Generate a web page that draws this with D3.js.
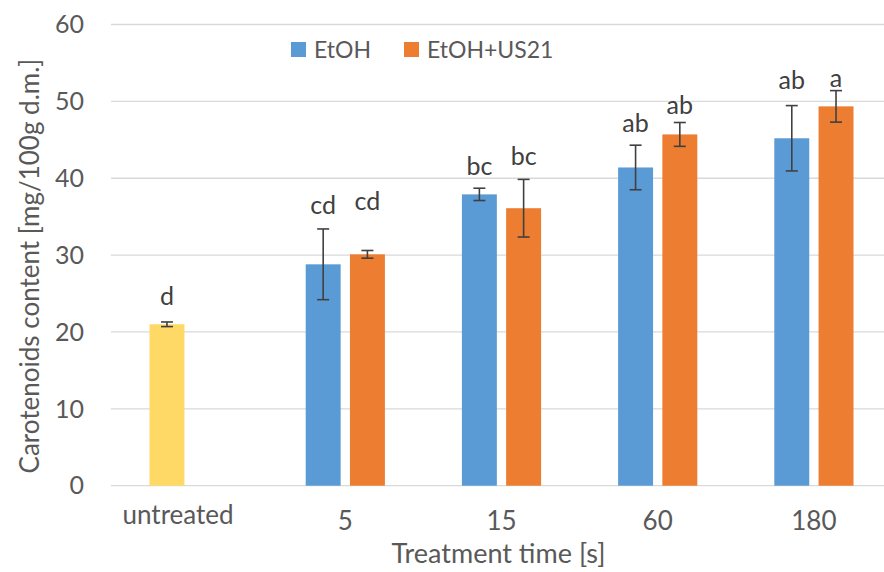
<!DOCTYPE html>
<html>
<head>
<meta charset="utf-8">
<title>Carotenoids content</title>
<style>
  body { margin: 0; background: #fff; font-family: Lato, "Open Sans", sans-serif; }
  .tick-label { fill: #595959; font-size: 25px; }
  .x-label { fill: #595959; font-size: 26px; }
  .axis-title { fill: #595959; font-size: 26px; }
  .letter { fill: #404040; font-size: 25px; }
  .legend text { fill: #595959; font-size: 23px; }
</style>
</head>
<body>
<script src="https://cdn.jsdelivr.net/npm/d3@7"></script>
<script>
// data
var categories = ["untreated", "5", "15", "60", "180"];
var seriesNames = ["EtOH", "EtOH+US21"];
var etohValues = [21.0, 28.8, 37.9, 41.4, 45.2];
var etohErrors = [0.3, 4.6, 0.8, 2.9, 4.25];
var us21Values = [null, 30.1, 36.1, 45.7, 49.35];
var us21Errors = [null, 0.5, 3.75, 1.55, 2.05];
var etohLetters = ["d", "cd", "bc", "ab", "ab"];
var us21Letters = [null, "cd", "bc", "ab", "a"];
// heights (in mg/100g) where the letters sit
var etohLetterY = [23.5, 35.4, 40.4, 46.05, 51.6];
var us21LetterY = [null, 35.9, 41.7, 48.35, 51.9];
var yTicks = [0, 10, 20, 30, 40, 50, 60];

var W = 884, H = 572;
var plot = {left: 111, right: 892, top: 24.5, bottom: 485.7};

var colors = {"EtOH": "#5b9bd5", "EtOH+US21": "#ed7d31", "untreated": "#ffd966"};

var svg = d3.select("body").append("svg")
    .attr("width", W).attr("height", H);

var x0 = d3.scaleBand().domain(categories).range([plot.left, plot.right]).padding(0);
var x1 = d3.scaleBand().domain(seriesNames).range([-39.6, 39.6]).paddingInner(0.21);
var y = d3.scaleLinear().domain([0, 60]).range([plot.bottom, plot.top]);

// gridlines
svg.append("g").attr("class", "grid")
  .selectAll("line").data(yTicks).enter().append("line")
    .attr("x1", plot.left).attr("x2", plot.right)
    .attr("y1", d => y(d)).attr("y2", d => y(d))
    .attr("stroke", "#d9d9d9").attr("stroke-width", 1.3);

// y tick labels
svg.append("g")
  .selectAll("text").data(yTicks).enter().append("text")
    .attr("class", "tick-label")
    .attr("x", 84).attr("y", d => y(d))
    .attr("dy", "0.35em")
    .attr("text-anchor", "end")
    .text(d => d);

// x tick labels ("untreated" sits a bit higher and to the left in the original)
svg.append("g")
  .selectAll("text").data(categories).enter().append("text")
    .attr("class", "x-label")
    .attr("x", d => x0(d) + x0.bandwidth() / 2 + (d == "untreated" ? -11 : 0))
    .attr("y", d => d == "untreated" ? 524 : 530)
    .attr("text-anchor", "middle")
    .text(d => d);

// build rows
var rows = [];
categories.forEach(function(c, i) {
  rows.push({cat: c, s: "EtOH", v: etohValues[i], e: etohErrors[i], lab: etohLetters[i], ly: etohLetterY[i]});
  if (us21Values[i] != null)
    rows.push({cat: c, s: "EtOH+US21", v: us21Values[i], e: us21Errors[i], lab: us21Letters[i], ly: us21LetterY[i]});
});
function cx(d) { return x0(d.cat) + x0.bandwidth() / 2 + x1(d.s) + x1.bandwidth() / 2; }

svg.append("g").selectAll("rect").data(rows).enter().append("rect")
    .attr("x", d => cx(d) - x1.bandwidth() / 2)
    .attr("width", x1.bandwidth())
    .attr("y", d => y(d.v))
    .attr("height", d => y(0) - y(d.v))
    .attr("fill", d => d.cat == "untreated" ? colors.untreated : colors[d.s]);

// error bars
var eb = svg.append("g").attr("stroke", "#404040").attr("stroke-width", 1.6);
rows.forEach(function(d) {
  var c = cx(d);
  eb.append("line").attr("x1", c).attr("x2", c).attr("y1", y(d.v + d.e)).attr("y2", y(d.v - d.e));
  eb.append("line").attr("x1", c - 6).attr("x2", c + 6).attr("y1", y(d.v + d.e)).attr("y2", y(d.v + d.e));
  eb.append("line").attr("x1", c - 6).attr("x2", c + 6).attr("y1", y(d.v - d.e)).attr("y2", y(d.v - d.e));
});

// significance letters
svg.append("g").selectAll("text").data(rows).enter().append("text")
    .attr("class", "letter")
    .attr("x", d => cx(d))
    .attr("y", d => y(d.ly))
    .attr("text-anchor", "middle")
    .text(d => d.lab);

// legend
var legend = svg.append("g").attr("class", "legend");
var legX = [291, 404];
seriesNames.forEach(function(s, i) {
  legend.append("rect").attr("x", legX[i]).attr("y", 42).attr("width", 15).attr("height", 15)
    .attr("fill", colors[s]);
  legend.append("text").attr("x", legX[i] + 23).attr("y", 49.5).attr("dy", "0.35em").text(s);
});

// axis titles
svg.append("text").attr("class", "axis-title")
    .style("font-size", "27px")
    .attr("x", (plot.left + plot.right) / 2 - 3).attr("y", 563)
    .attr("text-anchor", "middle")
    .text("Treatment time [s]");

svg.append("text").attr("class", "axis-title")
    .attr("transform", "translate(30," + ((plot.top + plot.bottom) / 2 + 11) + ") rotate(-90)")
    .attr("dy", "0.35em")
    .attr("text-anchor", "middle")
    .text("Carotenoids content [mg/100g d.m.]");
</script>
</body>
</html>
